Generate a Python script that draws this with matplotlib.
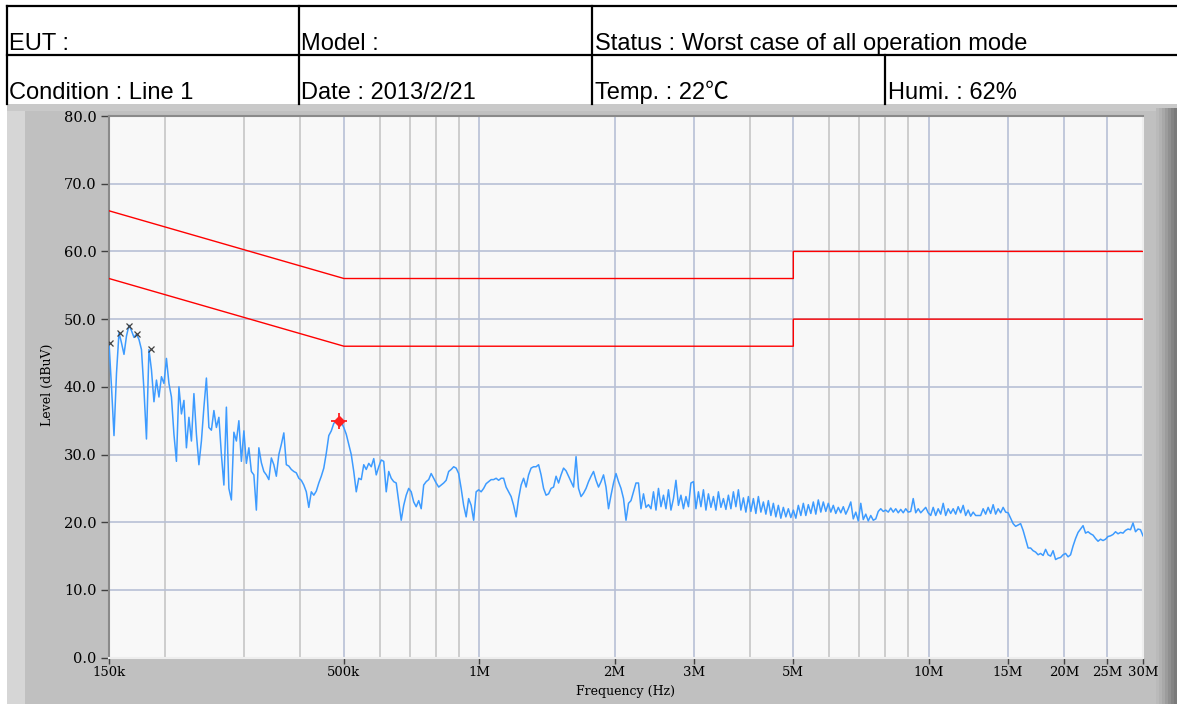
import numpy as np
import matplotlib
matplotlib.use("Agg")
import matplotlib.pyplot as plt
from matplotlib.lines import Line2D
from matplotlib.patches import Rectangle

W, H = 1177, 704

# header fields
header_row1 = ["EUT :", "Model :", "Status : Worst case of all operation mode"]
header_row2 = ["Condition : Line 1", "Date : 2013/2/21", "Temp. : 22\u2103", "Humi. : 62%"]

# limit lines (MHz, dBuV)
qp_freq = [0.15, 0.5, 0.5, 5.0, 5.0, 30.0]
qp_limit = [66.0, 56.0, 56.0, 56.0, 60.0, 60.0]
av_freq = [0.15, 0.5, 0.5, 5.0, 5.0, 30.0]
av_limit = [56.0, 46.0, 46.0, 46.0, 50.0, 50.0]

# peak markers
peak_freq = [0.1508, 0.1584, 0.1662, 0.1733, 0.1862]
peak_level = [46.5, 47.9, 49.0, 47.8, 45.6]
worst_freq = [0.488]
worst_level = [35.0]

level = [
    46.5, 40.0, 32.8, 42.0, 48.0, 46.5, 44.8, 47.5, 49.1, 48.3,
    47.3, 47.8, 47.0, 45.5, 39.5, 32.3, 45.5, 42.5, 37.8, 41.0,
    38.5, 41.5, 40.5, 44.2, 40.5, 38.5, 33.0, 29.0, 40.0, 36.0,
    38.0, 31.0, 35.5, 32.0, 39.0, 33.0, 28.5, 32.0, 37.0, 41.3,
    34.0, 33.6, 36.5, 34.0, 35.5, 30.0, 25.5, 37.0, 25.0, 23.3,
    33.3, 32.0, 35.0, 29.0, 33.5, 28.7, 31.0, 27.5, 27.0, 21.8,
    31.0, 28.8, 27.5, 27.0, 26.3, 29.5, 28.5, 26.8, 30.0, 31.5,
    33.2, 28.5, 28.3, 27.8, 27.5, 27.3, 26.5, 26.2, 25.5, 24.5,
    22.2, 24.5, 24.0, 24.6, 25.8, 26.8, 28.0, 30.2, 32.8, 33.5,
    34.6, 35.0, 35.0, 34.8, 34.0, 33.0, 31.5, 30.0, 27.5, 24.5,
    26.5, 26.3, 28.5, 27.8, 28.7, 28.2, 29.4, 27.0, 28.2, 29.2,   # ~550k
    29.0, 24.5, 27.5, 26.5, 26.0, 25.8, 23.0, 20.3, 22.5, 24.0,
    25.0, 24.5, 23.0, 22.3, 23.2, 22.0, 25.5, 26.0, 26.3, 27.2,
    26.5, 25.8, 25.2, 25.5, 25.8, 26.2, 27.5, 27.8, 28.2, 28.0,
    27.2, 25.0, 22.5, 20.8, 23.5, 22.5, 20.3, 24.5, 24.8, 24.5,
    25.0, 25.7, 26.0, 26.3, 26.3, 26.5, 26.2, 26.5, 26.5, 25.2,
    24.5, 23.8, 22.5, 20.8, 23.5, 25.5, 26.5, 25.2, 27.0, 28.0,
    28.2, 28.2, 28.5, 27.0, 25.0, 24.0, 24.2, 25.0, 25.2, 26.8,
    25.8, 27.0, 28.0, 27.6, 26.8, 26.0, 25.2, 29.7, 25.0, 23.8,
    24.3, 25.0, 26.0, 26.8, 27.5, 26.2, 25.2, 26.0, 27.0, 25.2,
    22.0, 24.0, 25.8, 27.2, 26.0, 25.0, 23.5, 20.3, 22.8, 23.2,   # ~2M
    24.5, 25.8, 25.8, 22.0, 24.2, 22.2, 22.6, 22.0, 24.5, 21.8,
    25.0, 22.3, 24.0, 22.0, 24.8, 21.8, 23.5, 26.2, 22.5, 24.0,
    22.0, 23.8, 22.3, 25.8, 26.0, 22.0, 24.5, 22.3, 24.8, 21.8,
    24.2, 22.2, 23.8, 21.8, 24.5, 22.2, 23.5, 21.9, 24.0, 22.0,
    24.5, 22.3, 24.8, 21.8, 23.6, 21.5, 23.8, 21.6, 23.5, 21.3,
    23.8, 21.5, 23.0, 21.2, 23.2, 21.0, 22.8, 20.8, 22.5, 20.6,
    22.2, 20.8, 22.0, 20.7, 21.8, 20.6, 22.5, 21.0, 22.8, 21.0,
    22.6, 21.3, 23.0, 21.2, 23.3, 21.5, 23.0, 21.6, 22.8, 21.5,
    22.5, 21.3, 22.2, 21.4, 22.3, 21.2, 22.0, 23.0, 20.5, 21.5,
    20.2, 22.8, 20.4, 21.2, 20.2, 21.0, 20.3, 20.5, 21.6, 22.0,   # ~7M
    21.6, 21.8, 21.5, 22.1, 21.5, 22.0, 21.4, 21.9, 21.4, 22.0,
    21.5, 21.6, 23.5, 21.4, 22.0, 21.4, 21.8, 22.2, 21.4, 21.0,
    22.2, 21.0, 22.0, 21.2, 22.8, 21.0, 22.0, 21.3, 22.0, 21.2,
    22.3, 21.4, 22.5, 21.0, 21.8, 20.9, 21.5, 21.0, 21.0, 21.0,
    22.0, 21.2, 22.2, 21.3, 22.6, 21.2, 22.0, 21.4, 22.2, 21.5,
    21.4, 20.6, 19.8, 19.4, 19.6, 19.8, 18.8, 17.5, 16.2, 16.2,   # ~15M
    15.8, 15.6, 15.2, 15.4, 15.1, 16.0, 15.2, 15.0, 15.8, 14.5,
    14.7, 14.8, 15.2, 15.4, 14.9, 15.2, 16.5, 17.6, 18.5, 19.0,
    19.5, 18.4, 18.6, 18.3, 18.1, 17.6, 17.2, 17.5, 17.3, 17.5,
    17.9, 18.0, 18.2, 18.6, 18.3, 18.5, 18.4, 18.8, 19.0, 18.9,
    19.9, 18.6, 19.0, 18.9, 18.0,
]
freq = np.geomspace(0.15, 30.0, len(level))

xtick_vals = [0.15, 0.5, 1, 2, 3, 5, 10, 15, 20, 25, 30]
xtick_text = ["150k", "500k", "1M", "2M", "3M", "5M", "10M", "15M", "20M", "25M", "30M"]
xminor_vals = [0.2, 0.3, 0.4, 0.6, 0.7, 0.8, 0.9, 4, 6, 7, 8, 9]
ytick_vals = [0, 10, 20, 30, 40, 50, 60, 70, 80]


def fx(x):
    return x / W


def fy(y):
    return 1 - y / H


fig = plt.figure(figsize=(W / 100, H / 100), dpi=100)
fig.patch.set_facecolor("white")

# gray instrument panel
fig.add_artist(Rectangle((fx(7), 0), fx(1177) - fx(7), fy(104), transform=fig.transFigure,
                         facecolor="#c0c0c0", edgecolor="none", zorder=0))
fig.add_artist(Rectangle((fx(7), 0), fx(25) - fx(7), fy(104), transform=fig.transFigure,
                         facecolor="#d6d6d6", edgecolor="none", zorder=0))
fig.add_artist(Rectangle((fx(7), fy(111)), fx(1177) - fx(7), fy(104) - fy(111), transform=fig.transFigure,
                         facecolor="#c9c9c9", edgecolor="none", zorder=0))
# shaded right edge
shades = ["#bababa", "#b2b2b2", "#a8a8a8", "#9c9c9c", "#909090", "#848484", "#7a7a7a"]
for k, c in enumerate(shades):
    x0 = 1156 + k * 3
    fig.add_artist(Rectangle((fx(x0), 0), fx(3.2), fy(108), transform=fig.transFigure,
                             facecolor=c, edgecolor="none", zorder=0))

# header table
lw = 1.6
fig.add_artist(Line2D([fx(7), 1], [fy(6), fy(6)], color="black", lw=lw))
fig.add_artist(Line2D([fx(7), 1], [fy(55), fy(55)], color="black", lw=lw))
for xv in [7, 299, 592]:
    fig.add_artist(Line2D([fx(xv), fx(xv)], [fy(6), fy(104)], color="black", lw=lw))
fig.add_artist(Line2D([fx(885), fx(885)], [fy(55), fy(104)], color="black", lw=lw))

hfont = ["Liberation Sans", "Noto Sans CJK TC", "DejaVu Sans"]
for xv, s in zip([9, 301, 595], header_row1):
    fig.text(fx(xv), fy(50), s, fontsize=17, family=hfont, va="baseline")
for xv, s in zip([9, 301, 595, 888], header_row2):
    fig.text(fx(xv), fy(99), s, fontsize=17, family=hfont, va="baseline")

# plot area
ax = fig.add_axes([fx(109), fy(657.7), fx(1143) - fx(109), fy(116) - fy(657.7)])
ax.set_facecolor("#f8f8f8")
ax.set_xscale("log")
ax.set_xlim(0.15, 30)
ax.set_ylim(0, 80)

for xv in xminor_vals:
    ax.axvline(xv, color="#c6c6c6", lw=1.2, zorder=1)
for xv in xtick_vals[1:-1]:
    ax.axvline(xv, color="#b8c0d6", lw=1.2, zorder=1)
for yv in ytick_vals[1:-1]:
    ax.axhline(yv, color="#b8c0d6", lw=1.2, zorder=1)

ax.plot(freq, level, color="#3d9bff", lw=1.1, zorder=3)
ax.plot(qp_freq, qp_limit, color="#ff0000", lw=1.0, zorder=4)
ax.plot(av_freq, av_limit, color="#ff0000", lw=1.0, zorder=4)
ax.plot(peak_freq, peak_level, ls="none", marker="x", ms=5, mew=0.9, color="#404040", zorder=5)
ax.plot(worst_freq, worst_level, ls="none", marker="+", ms=12, mew=1.3, color="#ff2020", zorder=5)
ax.plot(worst_freq, worst_level, ls="none", marker="D", ms=5, color="#ff2020", zorder=5)

ax.xaxis.set_minor_locator(matplotlib.ticker.NullLocator())
ax.set_xticks(xtick_vals)
ax.set_xticklabels(xtick_text)
ax.set_yticks(ytick_vals)
ax.set_yticklabels(["%.1f" % v for v in ytick_vals])
tfont = "DejaVu Serif"
for lab in ax.get_xticklabels():
    lab.set_family(tfont)
    lab.set_fontsize(9.5)
for lab in ax.get_yticklabels():
    lab.set_family(tfont)
    lab.set_fontsize(10.5)
ax.tick_params(axis="x", direction="out", length=4, width=1, color="#404040", pad=2)
ax.tick_params(axis="y", direction="out", length=6, width=1, color="#404040", pad=3)

for side in ["left", "top"]:
    ax.spines[side].set_color("#8a8a8a")
    ax.spines[side].set_linewidth(1.5)
for side in ["right", "bottom"]:
    ax.spines[side].set_color("#eeeeee")
    ax.spines[side].set_linewidth(1.5)

fig.text(fx(47), fy(385), "Level (dBuV)", rotation=90, family=tfont, fontsize=9,
         ha="center", va="center")
fig.text(fx(625), fy(692), "Frequency (Hz)", family=tfont, fontsize=9,
         ha="center", va="center")

fig.savefig("out.png", dpi=100)
